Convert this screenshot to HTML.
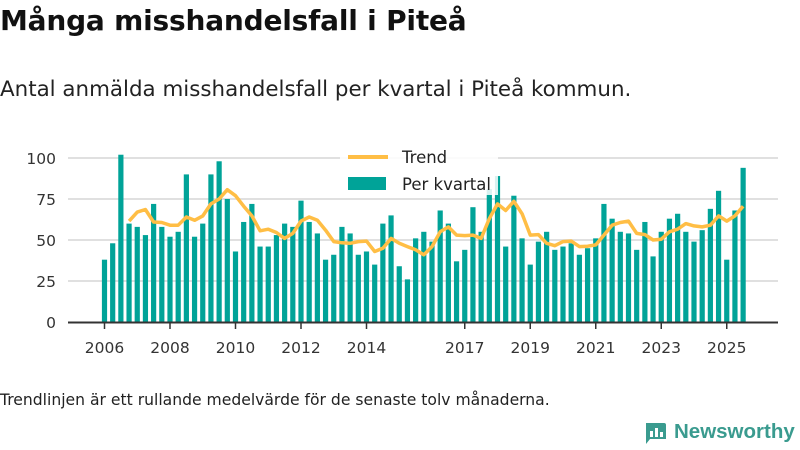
<!DOCTYPE html>
<html><head><meta charset="utf-8"><style>
html,body{margin:0;padding:0;background:#fff;width:800px;height:450px;overflow:hidden;font-family:"DejaVu Sans",sans-serif;color:#111}
#title{position:absolute;left:0;top:4px;font-size:28px;font-weight:bold;margin:0;letter-spacing:-0.2px}
#subtitle{position:absolute;left:0;top:77px;font-size:21.4px;margin:0;color:#222}
#footer{position:absolute;left:0;top:391px;font-size:15.6px;color:#222}
#logo{position:absolute;left:644px;top:419px;display:flex;align-items:center}
#chart{position:absolute;left:0;top:0}
</style></head><body>
<h1 id="title">Många misshandelsfall i Piteå</h1>
<p id="subtitle">Antal anmälda misshandelsfall per kvartal i Piteå kommun.</p>
<svg id="chart" width="800" height="450"></svg>
<div id="footer">Trendlinjen är ett rullande medelvärde för de senaste tolv månaderna.</div>
<div id="logo">
<svg width="24" height="26"><path d="M2 4 h18 a2 2 0 0 1 2 2 v14 h-16 l-4 5z" fill="#3a9b8f"/><rect x="6" y="12" width="3" height="6" fill="#fff"/><rect x="11" y="9" width="3" height="9" fill="#fff"/><rect x="16" y="13" width="3" height="5" fill="#fff"/></svg>
<span style="font-size:20.5px;font-weight:bold;color:#3a9b8f;margin-left:6px;font-family:'Liberation Sans',sans-serif">Newsworthy</span>
</div>
<script>
const yTicks=[0,25,50,75,100];
const yearTicks=[2006,2008,2010,2012,2014,2017,2019,2021,2023,2025];
const startYear=2006;
const quarterly=[38,48,102,60,58,53,72,58,52,55,90,52,60,90,98,75,43,61,72,46,46,53,60,58,74,61,54,38,41,58,54,41,43,35,60,65,34,26,51,55,49,68,60,37,44,70,55,81,89,46,77,51,35,49,55,44,46,48,41,45,51,72,63,55,54,44,61,40,55,63,66,55,49,56,69,80,38,68,94];
const trend=[null,null,null,61.5,67,68.6,61,60.7,59,59,64,62,64.7,72,75,80.7,77,70.6,64.7,55.6,56.6,54.6,51,54,61.5,64,62,56,49,48.3,48,49,49.3,43,45,51,48,46,44,41,46,55,58,53,52.7,53,51,63,72,68,73.6,66,53,53.3,48,46.5,49,49.3,46,46.2,47,53,59,60.7,61.5,54,53.3,50,50.5,55,56.6,60,58.6,58,59,64.7,61.5,64.7,70.6];
const NS="http://www.w3.org/2000/svg";
const svg=document.getElementById('chart');
const FF='DejaVu Sans, sans-serif';
const X=t=>104.5+(t-2006)*32.75;
const Y=v=>322-v*1.64;
function mk(tag,attrs){const e=document.createElementNS(NS,tag);for(const k in attrs)e.setAttribute(k,attrs[k]);svg.appendChild(e);return e;}
yTicks.forEach(v=>{
 if(v>0){const g=mk('line',{x1:68,x2:778,y1:Y(v),y2:Y(v),stroke:'#e0e0e0','stroke-width':2});
 
 }
 const t=mk('text',{x:56,y:Y(v)+6,'text-anchor':'end','font-size':15.5,fill:'#333','font-family':FF});
 t.textContent=v;
 
 
});
quarterly.forEach((v,i)=>{
 const x=X(startYear+i*0.25);
 const r=mk('rect',{x:x-2.6,y:Y(v),width:5.2,height:Y(0)-Y(v),fill:'#00a398'});
 
 
});
let d='';
trend.forEach((v,i)=>{if(v==null)return;const x=X(startYear+i*0.25),y=Y(v);d+=(d?'L':'M')+x.toFixed(1)+' '+y.toFixed(1);});
const tl=mk('path',{d:d,fill:'none',stroke:'#ffbe45','stroke-width':3.5,'stroke-linejoin':'round'});


const ax=mk('line',{x1:68,x2:778,y1:322.5,y2:322.5,stroke:'#333','stroke-width':2});


yearTicks.forEach(yr=>{
 const x=X(yr);
 const tk=mk('line',{x1:x,x2:x,y1:322,y2:329,stroke:'#333','stroke-width':1.5});
 
 
 const t=mk('text',{x:x,y:353,'text-anchor':'middle','font-size':15.5,fill:'#333','font-family':FF});
 t.textContent=yr;
 
 
});
const lb=mk('rect',{x:340,y:145,width:158,height:50,fill:'#fff','fill-opacity':0.85});


const l1=mk('line',{x1:348,x2:388,y1:157,y2:157,stroke:'#ffbe45','stroke-width':4});


const t1=mk('text',{x:402,y:163,'font-size':16.5,fill:'#222','font-family':FF});
t1.textContent='Trend';


const r2=mk('rect',{x:348,y:177,width:38,height:13,fill:'#00a398'});


const t2=mk('text',{x:402,y:190,'font-size':16.5,fill:'#222','font-family':FF});
t2.textContent='Per kvartal';


</script>
</body></html>
